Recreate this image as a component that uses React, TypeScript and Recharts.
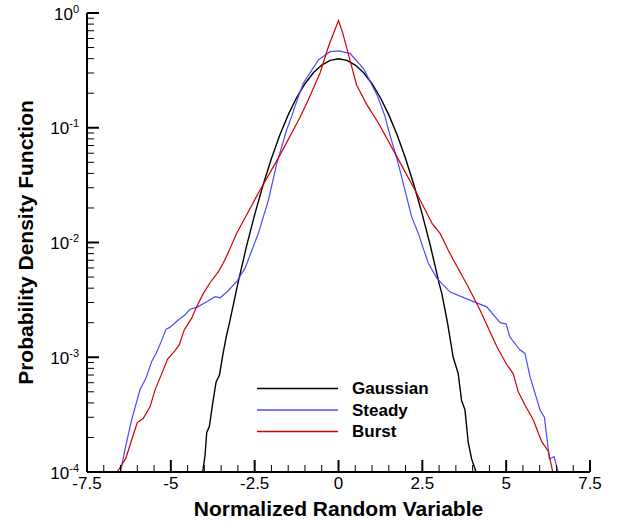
import React from 'react';
import { LineChart, Line, XAxis, YAxis } from 'recharts';

// Gaussian reference PDF
const gaussX = [-4.05, -3.98, -3.93, -3.85, -3.75, -3.65, -3.55, -3.45, -3.35, -3.25, -3.0, -2.75, -2.5, -2.25, -2.0, -1.75, -1.5, -1.25, -1.0, -0.75, -0.5, -0.25, 0, 0.25, 0.5, 0.75, 1.0, 1.25, 1.5, 1.75, 2.0, 2.25, 2.5, 2.75, 3.0, 3.08, 3.25, 3.42, 3.57, 3.67, 3.77, 3.87, 3.97, 4.1];
const gaussY = [1.0e-4, 1.4e-4, 2.2e-4, 2.5e-4, 4.0e-4, 6.1e-4, 7.0e-4, 1.05e-3, 1.5e-3, 2.0e-3, 4.4e-3, 9.1e-3, 0.0175, 0.0317, 0.054, 0.0863, 0.1295, 0.1826, 0.242, 0.301, 0.352, 0.387, 0.399, 0.387, 0.352, 0.301, 0.242, 0.1826, 0.1295, 0.0863, 0.054, 0.0317, 0.0175, 9.1e-3, 4.4e-3, 3.6e-3, 2.0e-3, 1.0e-3, 7.2e-4, 4.2e-4, 3.5e-4, 1.8e-4, 1.3e-4, 1.0e-4];

// Steady case
const steadyX = [-6.5, -6.37, -6.17, -5.92, -5.74, -5.57, -5.44, -5.27, -5.14, -5.03, -4.78, -4.58, -4.43, -4.23, -3.93, -3.68, -3.53, -3.29, -3.04, -2.79, -2.6, -2.39, -2.09, -1.84, -1.545, -1.4, -1.23, -1.05, -0.6, -0.25, 0, 0.34, 0.74, 1.16, 1.39, 1.49, 1.78, 1.98, 2.18, 2.38, 2.55, 2.68, 2.93, 3.33, 3.97, 4.42, 4.82, 5.0, 5.11, 5.41, 5.56, 5.71, 6.01, 6.14, 6.29, 6.43, 6.55];
const steadyY = [1.0e-4, 1.56e-4, 2.84e-4, 5.2e-4, 6.6e-4, 9.2e-4, 1.08e-3, 1.41e-3, 1.76e-3, 1.82e-3, 2.11e-3, 2.33e-3, 2.62e-3, 2.72e-3, 3.05e-3, 3.37e-3, 3.3e-3, 3.8e-3, 4.55e-3, 5.95e-3, 8.3e-3, 0.012, 0.0234, 0.049, 0.096, 0.125, 0.175, 0.244, 0.39, 0.46, 0.467, 0.445, 0.33, 0.19, 0.125, 0.096, 0.049, 0.0287, 0.0168, 0.012, 8.5e-3, 6.6e-3, 4.9e-3, 3.7e-3, 3.1e-3, 2.75e-3, 2.0e-3, 1.95e-3, 1.5e-3, 1.16e-3, 1.08e-3, 6.8e-4, 3.47e-4, 3.0e-4, 1.3e-4, 1.36e-4, 1.0e-4];

// Burst case
const burstX = [-6.6, -6.34, -6.17, -6.0, -5.82, -5.62, -5.47, -5.27, -5.1, -4.9, -4.75, -4.6, -4.38, -4.23, -4.03, -3.83, -3.58, -3.44, -3.3, -3.04, -2.36, -1.77, -1.15, -0.9, -0.55, -0.3, 0, 0.125, 0.34, 0.54, 0.84, 1.19, 1.74, 2.28, 2.8, 3.03, 3.27, 3.42, 3.87, 4.22, 4.72, 5.02, 5.21, 5.36, 5.56, 5.81, 6.06, 6.26, 6.39];
const burstY = [1.0e-4, 1.32e-4, 1.9e-4, 2.7e-4, 2.94e-4, 3.7e-4, 5.2e-4, 7.2e-4, 9.6e-4, 1.12e-3, 1.28e-3, 1.73e-3, 2.19e-3, 2.75e-3, 3.6e-3, 4.46e-3, 5.57e-3, 6.6e-3, 8.0e-3, 0.012, 0.028, 0.056, 0.123, 0.175, 0.3, 0.51, 0.86, 0.67, 0.39, 0.236, 0.16, 0.11, 0.056, 0.0287, 0.0145, 0.012, 8.6e-3, 7.1e-3, 4.1e-3, 2.58e-3, 1.24e-3, 8.6e-4, 7.2e-4, 5.0e-4, 3.84e-4, 2.84e-4, 1.84e-4, 1.51e-4, 1.0e-4];

const xMajorTicks = [-7.5, -5, -2.5, 0, 2.5, 5, 7.5];
const yDecades = [1e-4, 1e-3, 1e-2, 1e-1, 1];
const yExponents = ['-4', '-3', '-2', '-1', '0'];

const FONT = '"Liberation Sans", Arial, Helvetica, sans-serif';

const toRows = (xs: number[], ys: number[]) => xs.map((x, i) => ({ x, y: ys[i] }));
const gaussData = toRows(gaussX, gaussY);
const steadyData = toRows(steadyX, steadyY);
const burstData = toRows(burstX, burstY);

const xTicks: number[] = [];
for (let i = 0; i <= 30; i++) xTicks.push(-7.5 + i * 0.5);

const yTicks: number[] = [];
yDecades.forEach((d, i) => {
  yTicks.push(d);
  if (i < yDecades.length - 1) for (let m = 2; m <= 9; m++) yTicks.push(d * m);
});

const XTick = (props: any) => {
  const { x, y, payload } = props;
  const v = payload.value;
  const major = xMajorTicks.some((t) => Math.abs(t - v) < 1e-6);
  return (
    <g>
      <line x1={x} y1={y} x2={x} y2={y - (major ? 12 : 7)} stroke="#000" strokeWidth={major ? 2 : 1} />
      {major && (
        <text x={x} y={y + 17} textAnchor="middle" fontSize={17} fontFamily={FONT} fill="#000">
          {String(v)}
        </text>
      )}
    </g>
  );
};

const YTick = (props: any) => {
  const { x, y, payload } = props;
  const v = payload.value;
  const idx = yDecades.findIndex((d) => Math.abs(Math.log10(d) - Math.log10(v)) < 1e-6);
  const major = idx >= 0;
  return (
    <g>
      <line x1={x} y1={y} x2={x + (major ? 12 : 7)} y2={y} stroke="#000" strokeWidth={major ? 2 : 1} />
      {major && (
        <text x={x - 8} y={y + 6.5} textAnchor="end" fontSize={17} fontFamily={FONT} fill="#000">
          <tspan>10</tspan>
          <tspan dy={-7} fontSize={11}>{yExponents[idx]}</tspan>
        </text>
      )}
    </g>
  );
};

const legendItems = [
  { name: 'Gaussian', color: '#000000', width: 1.3 },
  { name: 'Steady', color: '#4a4aff', width: 1.3 },
  { name: 'Burst', color: '#d00000', width: 1.3 },
];

export default function App() {
  return (
    <div style={{ position: 'absolute', left: 0, top: 0, width: 627, height: 525, background: '#fff' }}>
      <LineChart width={627} height={525} margin={{ top: 13, right: 37, left: 0, bottom: 0 }}>
        <XAxis
          type="number"
          dataKey="x"
          domain={[-7.5, 7.5]}
          ticks={xTicks}
          interval={0}
          height={53}
          tickSize={0}
          tickMargin={0}
          tickLine={false}
          tick={<XTick />}
          axisLine={{ stroke: '#000', strokeWidth: 2 }}
          allowDuplicatedCategory={false}
          label={{
            content: (p: any) => {
              const vb = p.viewBox;
              return (
                <text x={vb.x + vb.width / 2} y={vb.y + 44} textAnchor="middle" fontSize={21} fontWeight="bold" fontFamily={FONT} fill="#000">
                  Normalized Random Variable
                </text>
              );
            },
          }}
        />
        <YAxis
          type="number"
          scale="log"
          domain={[1e-4, 1]}
          allowDataOverflow
          ticks={yTicks}
          interval={0}
          width={87}
          tickSize={0}
          tickMargin={0}
          tickLine={false}
          tick={<YTick />}
          axisLine={{ stroke: '#000', strokeWidth: 2 }}
          label={{
            content: (p: any) => {
              const vb = p.viewBox;
              return (
                <text
                  transform={`translate(33, ${vb.y + vb.height / 2}) rotate(-90)`}
                  textAnchor="middle"
                  fontSize={21}
                  fontWeight="bold"
                  fontFamily={FONT}
                  fill="#000"
                >
                  Probability Density Function
                </text>
              );
            },
          }}
        />
        <Line data={gaussData} dataKey="y" type="linear" stroke="#000000" strokeWidth={1.4} dot={false} activeDot={false} isAnimationActive={false} />
        <Line data={steadyData} dataKey="y" type="linear" stroke="#4a4aff" strokeWidth={1.2} dot={false} activeDot={false} isAnimationActive={false} />
        <Line data={burstData} dataKey="y" type="linear" stroke="#d00000" strokeWidth={1.2} dot={false} activeDot={false} isAnimationActive={false} />
      </LineChart>
      <svg width={627} height={525} style={{ position: 'absolute', left: 0, top: 0, pointerEvents: 'none' }}>
        {legendItems.map((it, i) => {
          const ly = 388.5 + i * 21.5;
          return (
            <g key={it.name}>
              <line x1={257} y1={ly} x2={338} y2={ly} stroke={it.color} strokeWidth={it.width} />
              <text x={352} y={ly + 5.8} fontSize={17} fontWeight="bold" fontFamily={FONT} fill="#000">
                {it.name}
              </text>
            </g>
          );
        })}
      </svg>
    </div>
  );
}
